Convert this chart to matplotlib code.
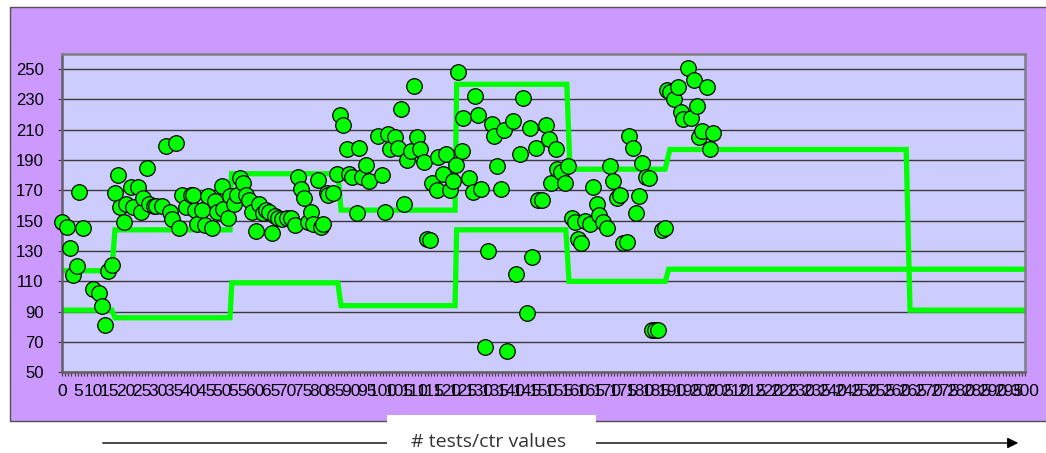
import matplotlib
matplotlib.use("Agg")
import matplotlib.pyplot as plt
from matplotlib.patches import Rectangle, FancyArrowPatch
import numpy as np

# Data (10 per row, x and y rows aligned)
test_x = [0, 1.6, 2.6, 3.6, 4.7, 5.5, 6.7, 9.6, 11.6, 12.7,
          13.6, 14.5, 15.8, 16.6, 17.6, 18.3, 19.5, 20.1, 21.6, 22.3,
          23.7, 24.6, 25.4, 26.6, 27.2, 28.6, 29.4, 31.3, 32.4, 33.7,
          34.5, 35.5, 36.5, 37.4, 38.6, 40.3, 41.5, 41.0, 42.0, 43.6,
          44.6, 45.7, 46.7, 47.7, 48.5, 49.8, 50.3, 51.7, 52.4, 53.7,
          54.5, 55.5, 56.6, 57.4, 58.3, 59.2, 60.5, 61.6, 62.6, 63.6,
          64.7, 65.5, 66.4, 67.5, 68.5, 70.1, 71.4, 72.7, 73.7, 74.5,
          75.6, 76.8, 77.5, 78.4, 79.7, 80.7, 81.5, 82.5, 83.0, 84.6,
          85.6, 86.7, 87.7, 88.7, 89.5, 90.3, 91.9, 92.7, 93.4, 94.7,
          95.7, 98.4, 99.6, 100.7, 101.5, 102.2, 103.8, 104.6, 105.7, 106.7,
          107.4, 108.8, 109.6, 110.8, 111.6, 112.7, 113.7, 114.7, 115.4, 116.8,
          117.3, 118.9, 119.6, 120.9, 122.0, 122.8, 123.5, 124.6, 125.1, 126.9,
          128.0, 128.7, 129.7, 130.7, 131.8, 132.8, 133.9, 134.7, 135.7, 136.7,
          137.8, 138.7, 140.6, 141.6, 142.7, 143.7, 144.8, 145.8, 146.6, 147.7,
          148.4, 149.7, 150.7, 151.7, 152.5, 153.8, 154.4, 155.5, 156.7, 157.7,
          158.8, 159.8, 160.9, 161.7, 162.9, 164.5, 165.5, 166.6, 167.4, 168.7,
          169.7, 170.8, 171.8, 172.8, 173.9, 174.9, 176.0, 176.8, 177.8, 178.9,
          179.9, 180.8, 181.9, 182.9, 183.7, 184.8, 185.8, 186.9, 187.9, 188.4,
          189.5, 190.8, 191.8, 192.9, 193.6, 194.9, 195.9, 196.9, 197.8, 198.6,
          199.3, 200.9, 201.9, 202.9]
ctr_values = [149, 146, 132, 114, 120, 169, 145, 105, 102, 94,
              81, 117, 121, 168, 180, 159, 149, 161, 172, 159,
              172, 156, 165, 185, 161, 160, 160, 160, 199, 156,
              151, 201, 145, 167, 159, 167, 157, 167, 148, 157,
              147, 166, 145, 163, 156, 173, 158, 152, 166, 161,
              167, 178, 175, 167, 164, 156, 143, 161, 155, 157,
              156, 142, 153, 152, 151, 152, 152, 147, 179, 171,
              165, 149, 156, 148, 177, 146, 148, 168, 167, 168,
              181, 220, 213, 197, 181, 179, 155, 198, 179, 187,
              176, 206, 180, 156, 207, 197, 205, 198, 224, 161,
              190, 196, 239, 205, 197, 189, 138, 137, 175, 170,
              192, 181, 194, 170, 176, 187, 248, 196, 218, 178,
              169, 232, 220, 171, 67, 130, 214, 206, 186, 171,
              210, 64, 216, 115, 194, 231, 89, 211, 126, 198,
              164, 164, 213, 204, 175, 197, 184, 182, 175, 186,
              152, 149, 138, 135, 150, 148, 172, 161, 154, 149,
              145, 186, 176, 165, 167, 135, 136, 206, 198, 155,
              166, 188, 179, 178, 78, 78, 78, 144, 145, 236,
              235, 230, 238, 222, 217, 251, 218, 243, 226, 205,
              209, 238, 197, 208]

# control limits (step vertices)
ucl_x = [0, 15.6, 16.6, 52.4, 52.9, 86, 87, 122.5, 123, 157.3, 158.3, 187.9, 189.4, 263, 264.2, 300]
ucl_y = [117, 117, 144, 144, 181, 181, 157, 157, 240, 240, 184, 184, 197, 197, 91, 91]
lcl_x = [0, 15.6, 16.6, 52.4, 53, 86, 87, 122.5, 123, 157, 158, 188, 189, 300]
lcl_y = [91, 91, 86, 86, 109, 109, 94, 94, 144, 144, 110, 110, 118, 118]

W, H = 1046, 453
fig = plt.figure(figsize=(W / 100, H / 100), dpi=100)
fig.patch.set_facecolor("white")

# purple chart area
fig.patches.append(Rectangle((10 / W, 1 - 421 / H), 1.0, (421 - 7) / H, transform=fig.transFigure,
                             facecolor="#CC99FF", edgecolor="#505050", linewidth=1, zorder=-10))

ax = fig.add_axes([61.7 / W, 1 - 372.3 / H, (1025 - 61.7) / W, (372.3 - 54) / H])
ax.set_facecolor("#CCCCFF")
ax.set_xlim(0, 300)
ax.set_ylim(50, 260)

ax.set_yticks(np.arange(50, 251, 20))
ax.set_xticks(np.arange(0, 301, 5))
ax.set_xticks(np.arange(0, 301, 1), minor=True)
ax.grid(True, axis="y", color="#3a3a3a", linewidth=1)
ax.set_axisbelow(True)

for sp in ax.spines.values():
    sp.set_color("#808080")
    sp.set_linewidth(1.8)
ax.spines["left"].set_color("#606060")
ax.spines["bottom"].set_color("#606060")

ax.tick_params(axis="y", which="major", direction="out", length=3, pad=10, labelsize=12,
               color="#404040")
ax.tick_params(axis="x", which="both", direction="out", length=3, width=0.8, color="#404040")
ax.tick_params(axis="x", which="major", pad=5.5, labelsize=12.5)
for lab in ax.get_yticklabels():
    lab.set_family(["Liberation Sans", "DejaVu Sans"])
for lab in ax.get_xticklabels():
    lab.set_family(["Liberation Sans", "DejaVu Sans"])

ax.plot(ucl_x, ucl_y, color="#00FF00", linewidth=3.8, zorder=2, solid_joinstyle="miter")
ax.plot(lcl_x, lcl_y, color="#00FF00", linewidth=3.8, zorder=2, solid_joinstyle="miter")
ax.scatter(test_x, ctr_values, s=125, facecolor="#00FF00", edgecolor="black", linewidths=0.9,
           zorder=3, clip_on=False)

# axis caption with arrow
arrow = FancyArrowPatch((100 / W, 1 - 443 / H), (1021 / W, 1 - 443 / H), transform=fig.transFigure,
                        arrowstyle="-|>", mutation_scale=16, color="black", linewidth=1, zorder=1)
fig.add_artist(arrow)
fig.add_artist(Rectangle((387 / W, 0), (596 - 387) / W, (453 - 415) / H, transform=fig.transFigure,
                         facecolor="white", edgecolor="none", zorder=2))
fig.text(489 / W, 1 - 447 / H, "# tests/ctr values", ha="center", va="baseline", fontsize=14,
         family=["Open Sans", "DejaVu Sans"], color="#333333", zorder=3)

fig.savefig("out.png", dpi=100)
